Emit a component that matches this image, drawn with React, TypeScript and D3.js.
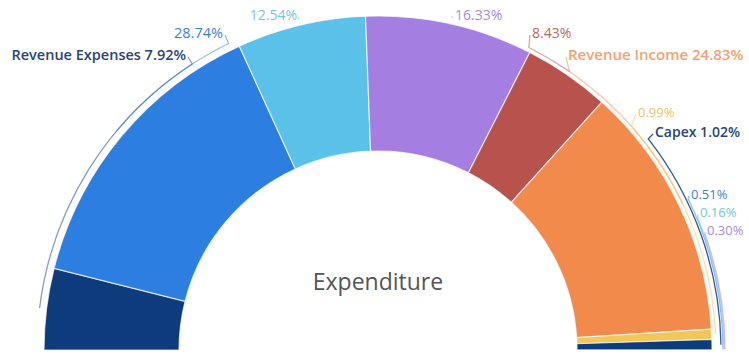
import React from "react";
import * as d3 from "d3";

// ---- data ----
const names = [
  "Revenue Expenses",
  "",
  "",
  "",
  "",
  "Revenue Income",
  "",
  "Capex",
  "",
  "",
  "",
];
const values = [7.92, 28.74, 12.54, 16.33, 8.43, 24.83, 0.99, 1.02, 0.51, 0.16, 0.3];
const percentLabels = ["7.92%", "28.74%", "12.54%", "16.33%", "8.43%", "24.83%", "0.99%", "1.02%", "0.51%", "0.16%", "0.30%"];
const title = "Expenditure";

// ---- styles / layout ----
const palette = ["#0e3b7b", "#2c7fe0", "#5bc1e8", "#a47fe1", "#b8524d", "#f28a4c", "#f3c65a"];
const textColors = ["#2a4576", "#3b82d6", "#72c6ea", "#a98ae0", "#bb6a5c", "#f3a274", "#e9c46a"];
// label layout: anchor angle on leader ring (deg, from left going clockwise over top), text position, alignment, ring offset
const labelLayout = [
  { theta: 57, tx: 186, ty: 60, side: "end", ring: 7, w: 600, fs: 14.5 },
  { theta: 64, tx: 223, ty: 38, side: "end", ring: 7, w: 400, fs: 14.5 },
  { theta: 76.5, tx: 297, ty: 20, side: "end", ring: 7, w: 400, fs: 14 },
  { theta: 102.5, tx: 455, ty: 20, side: "start", ring: 7, w: 400, fs: 14 },
  { theta: 116.5, tx: 532, ty: 38, side: "start", ring: 4, w: 400, fs: 14 },
  { theta: 124.5, tx: 568, ty: 60, side: "start", ring: 4, w: 600, fs: 15 },
  { theta: 138.5, tx: 638, ty: 117, side: "start", ring: 4, w: 400, fs: 13 },
  { theta: 142, tx: 655, ty: 137, side: "start", ring: 9, w: 600, fs: 14 },
  { theta: 154, tx: 691, ty: 199, side: "start", ring: 11, w: 400, fs: 13 },
  { theta: 157.5, tx: 700, ty: 217, side: "start", ring: 12, w: 400, fs: 13 },
  { theta: 160.5, tx: 707, ty: 235, side: "start", ring: 13, w: 400, fs: 13 },
];
// the ring runs slightly past the baseline; the overflow is clipped
const overflowDeg = 1.75;

const W = 749;
const H = 361;
const cx = 378;
const cy = 350;
const R = 334;
const r0 = 199;
const FONT = "'Open Sans', 'Noto Sans', sans-serif";

export default function App() {
  const data = values.map((v, i) => ({ v, i }));
  const pie = d3
    .pie<{ v: number; i: number }>()
    .value((d) => d.v)
    .sort(null)
    .startAngle(-Math.PI / 2)
    .endAngle(Math.PI / 2 + (overflowDeg * Math.PI) / 180);
  const arcs = pie(data);
  const arcGen = d3
    .arc<d3.PieArcDatum<{ v: number; i: number }>>()
    .innerRadius(r0)
    .outerRadius(R);

  const color = (i: number) => palette[i % palette.length];
  const tcolor = (i: number) => textColors[i % textColors.length];

  // point at d3 angle a (0 = up, clockwise)
  const pt = (a: number, rad: number) => [cx + rad * Math.sin(a), cy - rad * Math.cos(a)];
  const thetaToA = (deg: number) => ((deg - 90) * Math.PI) / 180;

  const leaders = arcs.map((a, k) => {
    const L = labelLayout[k];
    const rl = R + L.ring;
    const mid = Math.min((a.startAngle + a.endAngle) / 2, Math.PI / 2 - 0.002);
    const end = thetaToA(L.theta);
    const p = d3.path();
    const s = pt(mid, rl);
    p.moveTo(s[0], s[1]);
    p.arc(cx, cy, rl, mid - Math.PI / 2, end - Math.PI / 2, end < mid);
    const tx = L.side === "end" ? L.tx + 2 : L.tx - 2;
    p.lineTo(tx, L.ty - 3);
    return { d: p.toString(), k };
  });

  // draw order for leaders: lighter ones first, Capex last
  const order = [0, 1, 2, 3, 4, 5, 6, 8, 9, 10, 7];

  return (
    <svg
      width={W}
      height={H}
      style={{ position: "absolute", left: 0, top: 0, background: "#fff" }}
      fontFamily={FONT}
    >
      <defs>
        <clipPath id="half">
          <rect x={0} y={0} width={W} height={cy} />
        </clipPath>
      </defs>
      <g clipPath="url(#half)">
        <g transform={`translate(${cx},${cy})`}>
          {arcs.map((a, k) => (
            <path key={k} d={arcGen(a) || ""} fill={color(k)} stroke="#fff" strokeWidth={1.2} strokeOpacity={0.7} />
          ))}
        </g>
      </g>
      {order.map((k) => (
        <path
          key={"l" + k}
          d={leaders[k].d}
          fill="none"
          stroke={color(k)}
          strokeOpacity={k === 7 ? 0.85 : 0.5}
          strokeWidth={1.3}
        />
      ))}
      {arcs.map((a, k) => {
        const L = labelLayout[k];
        const txt = names[k] ? `${names[k]} ${percentLabels[k]}` : percentLabels[k];
        return (
          <text
            key={"t" + k}
            x={L.tx}
            y={L.ty}
            textAnchor={L.side}
            fontSize={L.fs}
            fontWeight={L.w}
            fill={tcolor(k)}
          >
            {txt}
          </text>
        );
      })}
      <text x={cx} y={290} textAnchor="middle" fontSize={23} fill="#555">
        {title}
      </text>
    </svg>
  );
}
